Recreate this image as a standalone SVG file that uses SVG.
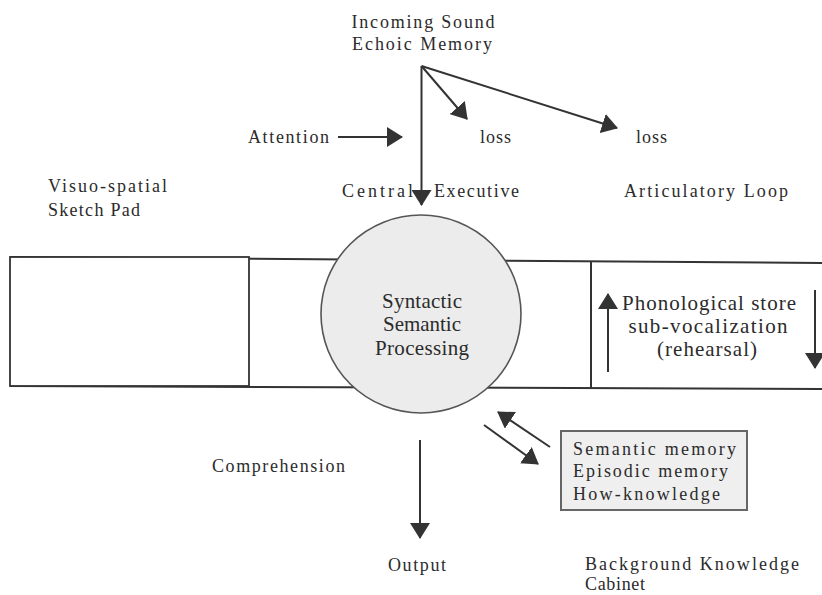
<svg xmlns="http://www.w3.org/2000/svg" width="822" height="595" viewBox="0 0 822 595">
<style>
text{font-family:"Liberation Serif","Times New Roman",serif;font-size:18px;fill:#2b2b2b}
.c{text-anchor:middle}
.big{font-size:21px}
.ln{stroke:#333;stroke-width:2;fill:none}
.bx{stroke:#333;stroke-width:1.8;fill:#fff}
</style>
<defs>
<marker id="ah" viewBox="0 0 16 20" refX="15" refY="10" markerWidth="16" markerHeight="20" orient="auto" markerUnits="userSpaceOnUse"><path d="M0,0 L16,10 L0,20 z" fill="#333"/></marker>
</defs>
<rect width="822" height="595" fill="#fff"/>
<g id="band">
<path class="ln" d="M10,257 L822,263 M10,386 L822,389"/>
<rect class="bx" x="10" y="257" width="239" height="129"/>
<path class="ln" d="M591,261 L591,388"/>
</g>
<g id="visuo-spatial">
<text x="48" y="192" textLength="119">Visuo-spatial</text>
<text x="48" y="216" textLength="92">Sketch Pad</text>
</g>
<g id="processing">
<ellipse cx="421" cy="314" rx="100" ry="99" fill="#ececec" stroke="#555" stroke-width="1.6"/>
<text class="c big" x="422" y="308" textLength="80">Syntactic</text>
<text class="c big" x="422" y="331" textLength="78">Semantic</text>
<text class="c big" x="422" y="355" textLength="94">Processing</text>
</g>
<g id="incoming">
<text class="c" x="423" y="28" textLength="143">Incoming Sound</text>
<text class="c" x="422" y="50" textLength="140">Echoic Memory</text>
</g>
<g id="attention"><text x="248" y="143" textLength="81">Attention</text></g>
<g id="loss1"><text x="480" y="143" textLength="31">loss</text></g>
<g id="loss2"><text x="636" y="143" textLength="31">loss</text></g>
<g id="central-executive">
<text x="342" y="197" textLength="71">Central</text>
<text x="434" y="197" textLength="85">Executive</text>
</g>
<g id="articulatory">
<text x="624" y="197" textLength="164">Articulatory Loop</text>
<text class="c big" x="709" y="310" textLength="174">Phonological store</text>
<text class="c big" x="708" y="333" textLength="159">sub-vocalization</text>
<text class="c big" x="707" y="356" textLength="100">(rehearsal)</text>
</g>
<g id="comprehension"><text x="212" y="472" textLength="133">Comprehension</text></g>
<g id="output"><text x="388" y="571" textLength="58">Output</text></g>
<g id="knowledge">
<rect x="561" y="431" width="186" height="79" fill="#efefef" stroke="#666" stroke-width="2"/>
<text x="573" y="455" textLength="163">Semantic memory</text>
<text x="573" y="477" textLength="155">Episodic memory</text>
<text x="573" y="500" textLength="147">How-knowledge</text>
<text x="585" y="570" textLength="214">Background Knowledge</text>
<text x="585" y="590" textLength="60">Cabinet</text>
</g>
<g id="connectors">
<line class="ln" x1="421.5" y1="66" x2="421.5" y2="205" marker-end="url(#ah)"/>
<line class="ln" x1="421.5" y1="66" x2="467" y2="119" marker-end="url(#ah)"/>
<line class="ln" x1="421.5" y1="66" x2="617" y2="128" marker-end="url(#ah)"/>
<line class="ln" x1="338" y1="137" x2="402" y2="137" marker-end="url(#ah)"/>
<line class="ln" x1="608" y1="372" x2="608" y2="294" marker-end="url(#ah)"/>
<line class="ln" x1="815" y1="290" x2="815" y2="368" marker-end="url(#ah)"/>
<line class="ln" x1="420" y1="440" x2="420" y2="538" marker-end="url(#ah)"/>
<line class="ln" x1="550" y1="447" x2="498" y2="412" marker-end="url(#ah)"/>
<line class="ln" x1="484" y1="425" x2="538" y2="464" marker-end="url(#ah)"/>
</g>
</svg>
